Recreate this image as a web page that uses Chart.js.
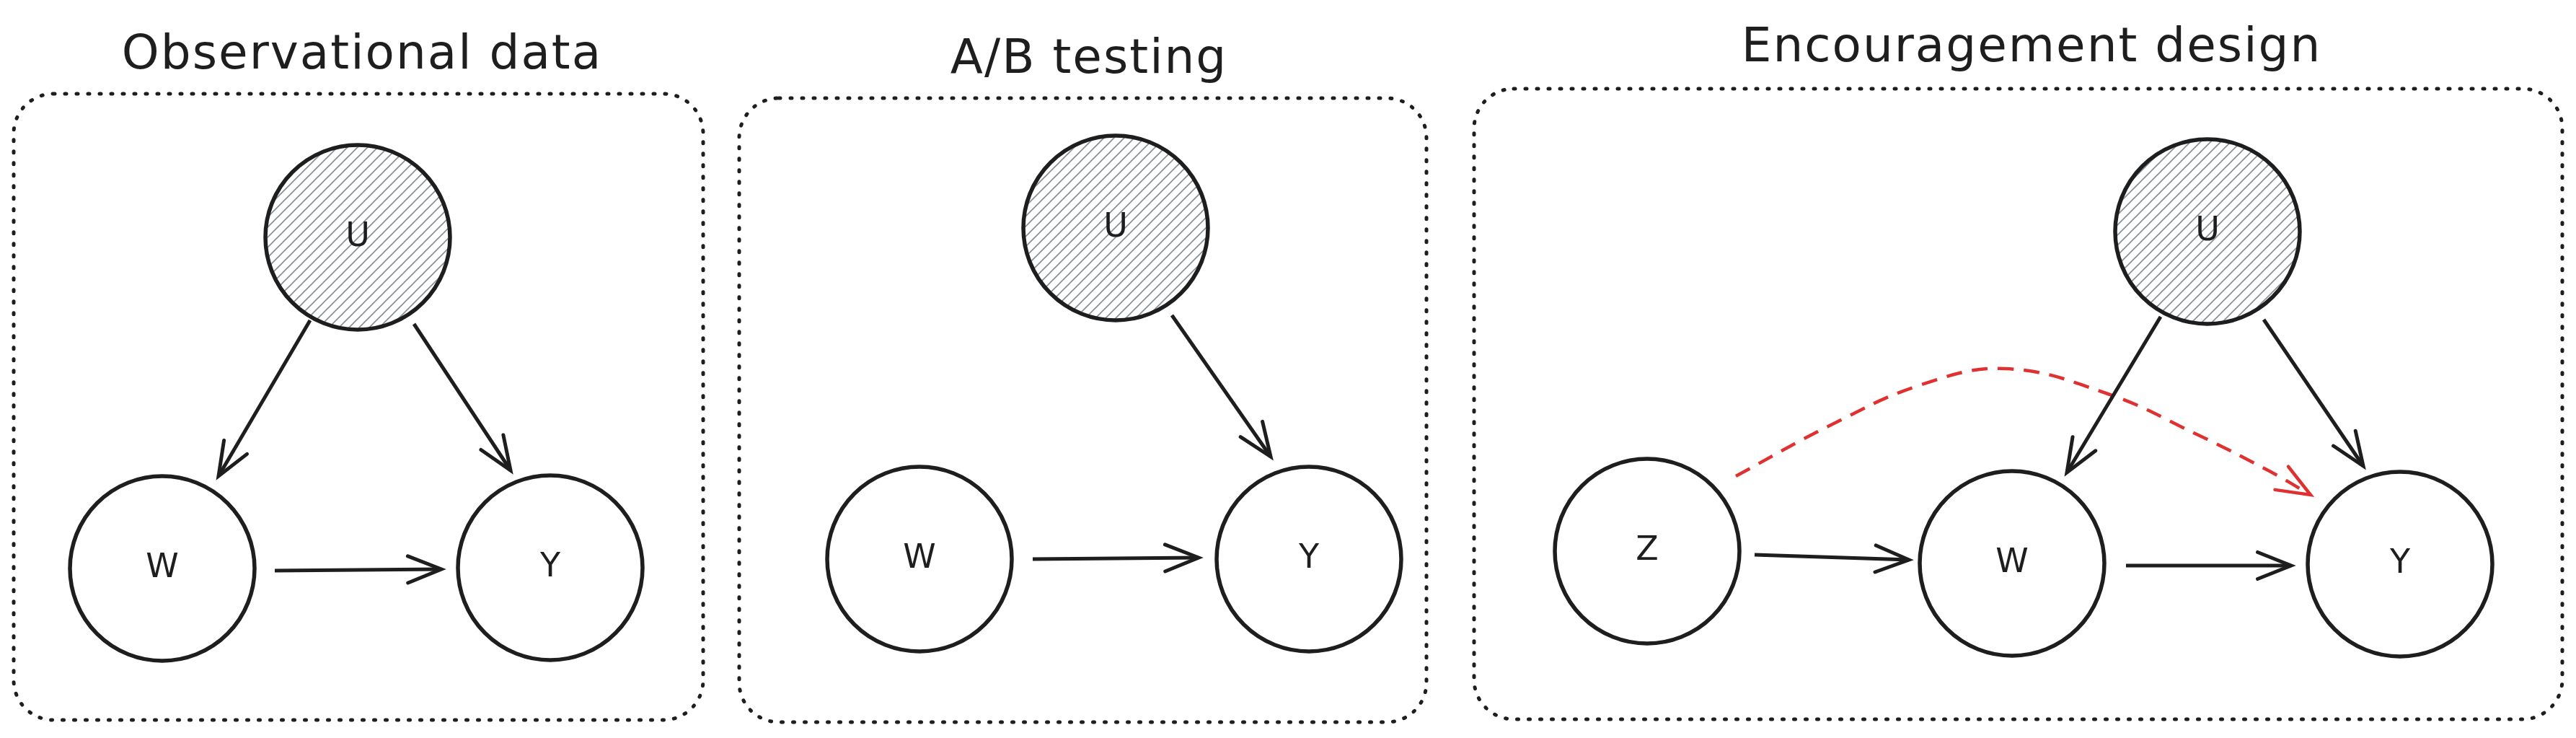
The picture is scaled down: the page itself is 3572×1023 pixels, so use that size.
<!DOCTYPE html>
<html>
<head>
<meta charset="utf-8">
<script src="https://cdn.jsdelivr.net/npm/chart.js@4/dist/chart.umd.min.js"></script>
<style>
  html, body { margin: 0; padding: 0; background: #fff; overflow: hidden; }
  #wrap { width: 3572px; height: 1023px; }
</style>
</head>
<body>
<div id="wrap"><canvas id="chart" width="3572" height="1023"></canvas></div>
<script>
// === Panneaux ===
const panelTitles = ['Observational data', 'A/B testing', 'Encouragement design'];
const titleX = [502, 1510, 2817];
const titleY = [95, 101, 85];
const boxLeft = [19, 1025, 2044];
const boxRight = [975, 1978, 3553];
const boxTop = [130, 136, 123];
const boxBottom = [998, 1001, 997];

// === Noeuds ===
const nodeLabels = ['U', 'W', 'Y', 'U', 'W', 'Y', 'U', 'Z', 'W', 'Y'];
const nodeX = [496, 225, 763, 1547, 1275, 1815, 3061, 2284, 2790, 3328];
const nodeY = [329, 788, 787, 316, 775, 775, 321, 764, 781, 782];
const nodeHidden = [true, false, false, true, false, false, true, false, false, false];

// === Fleches ===
const edgeX0 = [430, 574, 381, 1625, 1432, 2996, 3139, 2433, 2948];
const edgeY0 = [444, 449, 791, 437, 775, 439, 443, 769, 784];
const edgeX1 = [303, 708, 612, 1762, 1662, 2866, 3277, 2647, 3177];
const edgeY1 = [660, 652, 789, 633, 773, 655, 646, 776, 784];

// fleche rouge (Z -> Y)
const encourageX = [2407, 2537, 2662, 2781, 2923, 3046, 3145, 3204];
const encourageY = [660, 590, 534, 511, 546, 602, 652, 686];

const INK = '#1e1e1e';
const RED = '#e03131';
const FONT = '"DejaVu Sans", sans-serif';

function hatchPattern() {
  const c = document.createElement('canvas');
  c.width = 14; c.height = 14;
  const g = c.getContext('2d');
  g.fillStyle = '#fff';
  g.fillRect(0, 0, 14, 14);
  g.strokeStyle = '#868e96';
  g.lineWidth = 1.6;
  g.beginPath();
  g.moveTo(0, 14); g.lineTo(14, 0);
  g.moveTo(-2, 2); g.lineTo(2, -2);
  g.moveTo(12, 16); g.lineTo(16, 12);
  g.stroke();
  return g.createPattern(c, 'repeat');
}

const hiddenPts = [], plainPts = [];
nodeX.forEach((x, i) => (nodeHidden[i] ? hiddenPts : plainPts).push({ x, y: nodeY[i] }));

const datasets = [
  {
    type: 'scatter', data: hiddenPts,
    backgroundColor: hatchPattern(), borderColor: INK, borderWidth: 5.5,
    pointRadius: 128, pointHoverRadius: 128
  },
  {
    type: 'scatter', data: plainPts,
    backgroundColor: 'rgba(255,255,255,0)', borderColor: INK, borderWidth: 5.5,
    pointRadius: 128, pointHoverRadius: 128
  }
];

edgeX0.forEach((x0, i) => {
  datasets.push({
    type: 'line',
    data: [{ x: x0, y: edgeY0[i] }, { x: edgeX1[i], y: edgeY1[i] }],
    borderColor: INK, borderWidth: 5, pointRadius: 0, arrow: true
  });
});

datasets.push({
  type: 'line',
  data: encourageX.map((x, i) => ({ x, y: encourageY[i] })),
  borderColor: RED, borderWidth: 4.5, borderDash: [22, 14], tension: 0.4,
  pointRadius: 0, arrow: true
});

// boites pointillees + titres
const framePlugin = {
  id: 'frames',
  beforeDatasetsDraw(chart) {
    const { ctx, scales: { x, y } } = chart;
    ctx.save();
    ctx.strokeStyle = INK;
    ctx.lineWidth = 5;
    ctx.lineCap = 'round';
    ctx.setLineDash([2, 14]);
    panelTitles.forEach((t, i) => {
      const l = x.getPixelForValue(boxLeft[i]), r = x.getPixelForValue(boxRight[i]);
      const tp = y.getPixelForValue(boxTop[i]), b = y.getPixelForValue(boxBottom[i]);
      ctx.beginPath();
      ctx.roundRect(l, tp, r - l, b - tp, 55);
      ctx.stroke();
    });
    ctx.setLineDash([]);
    ctx.fillStyle = INK;
    ctx.font = '66px ' + FONT;
    ctx.letterSpacing = '2px';
    ctx.textAlign = 'center';
    ctx.textBaseline = 'alphabetic';
    panelTitles.forEach((t, i) => {
      ctx.fillText(t, x.getPixelForValue(titleX[i]), y.getPixelForValue(titleY[i]));
    });
    ctx.restore();
  }
};

// pointes de fleches + lettres des noeuds
const arrowPlugin = {
  id: 'arrows',
  afterDatasetsDraw(chart) {
    const { ctx, scales: { x, y } } = chart;
    ctx.save();
    chart.data.datasets.forEach((ds, i) => {
      if (!ds.arrow) return;
      const pts = chart.getDatasetMeta(i).data;
      const a = pts[pts.length - 2], b = pts[pts.length - 1];
      const ang = Math.atan2(b.y - a.y, b.x - a.x);
      const len = 50, spread = 0.38;
      ctx.strokeStyle = ds.borderColor;
      ctx.lineWidth = ds.borderWidth;
      ctx.lineCap = 'round';
      ctx.beginPath();
      ctx.moveTo(b.x - len * Math.cos(ang - spread), b.y - len * Math.sin(ang - spread));
      ctx.lineTo(b.x, b.y);
      ctx.lineTo(b.x - len * Math.cos(ang + spread), b.y - len * Math.sin(ang + spread));
      ctx.stroke();
    });
    ctx.fillStyle = INK;
    ctx.font = '46px ' + FONT;
    ctx.textAlign = 'center';
    ctx.textBaseline = 'middle';
    nodeLabels.forEach((lab, i) => {
      ctx.fillText(lab, x.getPixelForValue(nodeX[i]), y.getPixelForValue(nodeY[i]));
    });
    ctx.restore();
  }
};

new Chart(document.getElementById('chart').getContext('2d'), {
  type: 'scatter',
  data: { datasets },
  options: {
    responsive: false,
    devicePixelRatio: 1,
    animation: false,
    events: [],
    layout: { autoPadding: false, padding: 0 },
    plugins: { legend: { display: false }, tooltip: { enabled: false } },
    scales: {
      x: { type: 'linear', min: 0, max: 3572, display: false },
      y: { type: 'linear', min: 0, max: 1023, reverse: true, display: false }
    }
  },
  plugins: [framePlugin, arrowPlugin]
});
</script>
</body>
</html>
